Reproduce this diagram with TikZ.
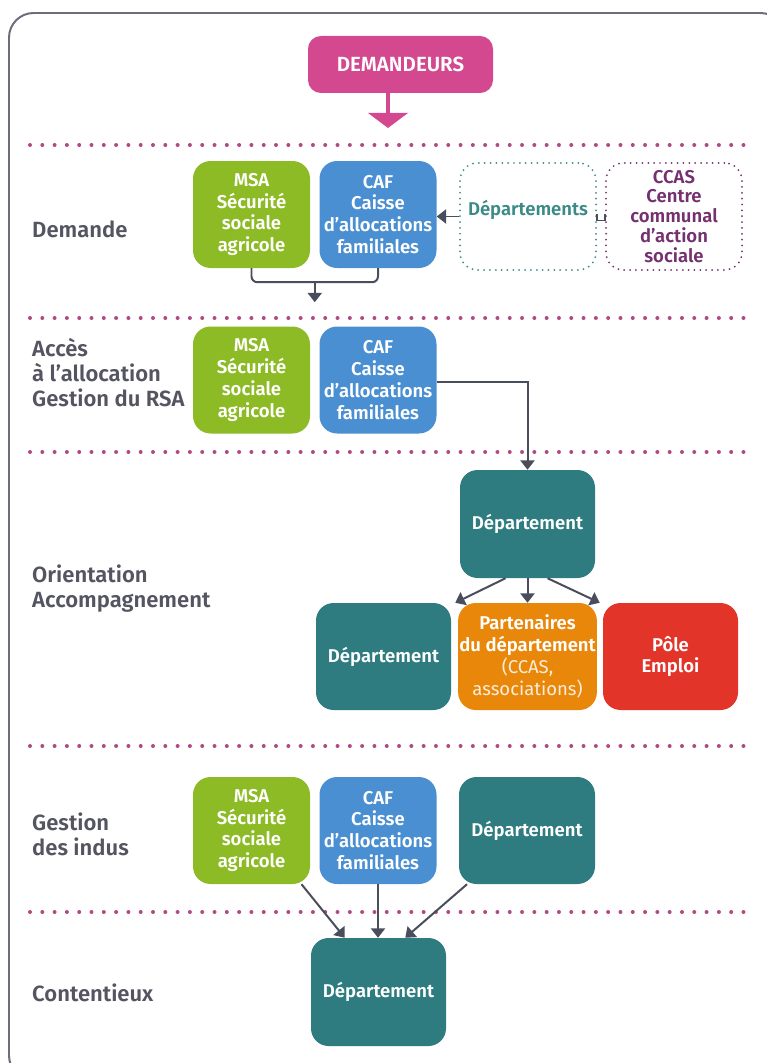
\documentclass[tikz,border=0pt]{standalone}
\usepackage{fontspec}
\setmainfont{Fira Sans}[BoldFont={Fira Sans SemiBold}]
\usepackage{tikz}
\usetikzlibrary{arrows.meta,calc}
\definecolor{askpink}{RGB}{211,72,143}
\definecolor{msagreen}{RGB}{141,187,37}
\definecolor{cafblue}{RGB}{74,143,209}
\definecolor{depteal}{RGB}{46,123,128}
\definecolor{partorange}{RGB}{233,135,11}
\definecolor{polered}{RGB}{227,52,42}
\definecolor{rowdots}{RGB}{176,74,130}
\definecolor{labgray}{RGB}{85,85,98}
\definecolor{arrowgray}{RGB}{74,77,92}
\definecolor{tealtext}{RGB}{58,138,136}
\definecolor{ccaspurple}{RGB}{116,48,111}
\definecolor{framegray}{RGB}{109,109,123}
\tikzset{
  frame/.style={draw=framegray,line width=1.7pt,rounded corners=21pt},
  rowsep/.style={draw=rowdots,line width=3.4pt,line cap=round,dash pattern=on 0pt off 10.5pt},
  flow/.style={draw=arrowgray,line width=1.7pt,-{Triangle[width=12pt,length=8pt]}},
  link/.style={draw=arrowgray,line width=1.7pt},
  bigflow/.style={draw=askpink,line width=3.4pt,-{Triangle[width=34pt,length=13pt]}},
  box/.style={rounded corners=15pt,minimum width=117*0.3mm,minimum height=107*0.3mm,
              inner sep=1pt,align=center,text=white,
              font=\fontsize{15.8}{18.7}\selectfont\bfseries},
  msa/.style={box,fill=msagreen},
  caf/.style={box,fill=cafblue},
  dept/.style={box,fill=depteal,minimum width=135*0.3mm},
  partner/.style={box,fill=partorange,minimum width=135*0.3mm},
  pole/.style={box,fill=polered,minimum width=135*0.3mm},
  open/.style={box,minimum width=136*0.3mm,line width=1.7pt,line cap=round,
               dash pattern=on 0pt off 5pt},
  ask/.style={box,fill=askpink,rounded corners=11pt,minimum width=185*0.3mm,
              minimum height=57*0.3mm,font=\fontsize{17.5}{19}\selectfont\bfseries},
  lab/.style={anchor=west,align=left,text=labgray,inner sep=0pt,
              font=\fontsize{18.8}{21.3}\selectfont\bfseries},
}
\begin{document}
\begin{tikzpicture}[x=0.3mm,y=-0.3mm]
  \useasboundingbox (0,0) rectangle (766,1063);
  \draw[frame] (9,13) rectangle (785,1080);

  % row separators
  \foreach \ys in {145,318,452,746,912}
    \draw[rowsep] (30,\ys) -- (745,\ys);

  % row labels
  \node[lab] (ldemande) at (32,229) {Demande};
  \node[lab] (lacces) at (32,373) {Accès\\à l’allocation\\Gestion du RSA};
  \node[lab] (lorient) at (32,589) {Orientation\\Accompagnement};
  \node[lab] (lindus) at (32,834) {Gestion\\des indus};
  \node[lab] (lcont) at (32,993) {Contentieux};

  % demandeurs
  \node[ask] (ask) at (400.5,64.5) {DEMANDEURS};
  \coordinate (askend) at (388,128);
  \draw[bigflow] (ask.south -| askend) -- (askend);

  % demande
  \node[msa] (msa1) at (251.5,214.5) {MSA\\Sécurité\\sociale\\agricole};
  \node[caf] (caf1) at (378,214.5) {CAF\\Caisse\\d’allocations\\familiales};
  \node[open,draw=tealtext,text=tealtext] (deps) at (528,216.5) {Départements\\[-4pt]\mbox{}};
  \node[open,draw=ccaspurple,text=ccaspurple,font=\fontsize{15.8}{17}\selectfont\bfseries]
    (ccas) at (674,216.5) {CCAS\\Centre\\communal\\d’action\\sociale};
  \draw[flow] (deps.west) -- (deps.west -| caf1.east);
  \draw[link] ($(deps.east)+(0,-3)$) |- ($(ccas.west)+(0,4)$) -- ++(0,-7);
  \draw[link,rounded corners=5pt] (msa1.south) -- ++(0,14) -| (caf1.south);
  \coordinate (join) at ($(msa1.south)!0.5!(caf1.south)+(0,14)$);
  \coordinate (joinend) at ($(join)+(0,20)$);
  \draw[flow] (join) -- (joinend);

  % acces a l'allocation
  \node[msa] (msa2) at (251.5,380) {MSA\\Sécurité\\sociale\\agricole};
  \node[caf] (caf2) at (378,380) {CAF\\Caisse\\d’allocations\\familiales};

  % orientation
  \node[dept,minimum height=108*0.3mm] (dtop) at (527.5,524) {Département};
  \node[dept] (dleft) at (383.5,656.5) {Département};
  \node[partner] (part) at (527.5,656.5)
    {Partenaires\\du département\\{\mdseries\color{white!85!partorange}(CCAS,}\\{\mdseries\color{white!85!partorange}associations)}};
  \node[pole] (pole) at (670.5,656.5) {Pôle\\Emploi};
  \draw[flow] ([yshift=-2pt]caf2.east) -| (dtop.north);
  \draw[flow] (dtop.south) -- (part.north);
  \draw[flow] ($(dtop.south)+(-22,0)$) -- ($(dleft.north east)+(4,0)$);
  \draw[flow] ($(dtop.south)+(20,0)$) -- ($(pole.north west)+(-3,0)$);

  % gestion des indus
  \node[msa] (msa3) at (251.5,830.5) {MSA\\Sécurité\\sociale\\agricole};
  \node[caf] (caf3) at (378,830.5) {CAF\\Caisse\\d’allocations\\familiales};
  \node[dept,minimum width=136*0.3mm] (dept3) at (527,830.5) {Département};

  % contentieux
  \node[dept,minimum height=108*0.3mm] (cont) at (378.5,992) {Département};
  \draw[flow] ($(msa3.south)+(50,0)$) -- ($(cont.north west)+(34,0)$);
  \draw[flow] (caf3.south) -- (caf3.south |- cont.north);
  \draw[flow] ($(dept3.south)+(-60,0)$) -- ($(cont.north east)+(-41,0)$);
\end{tikzpicture}
\end{document}
